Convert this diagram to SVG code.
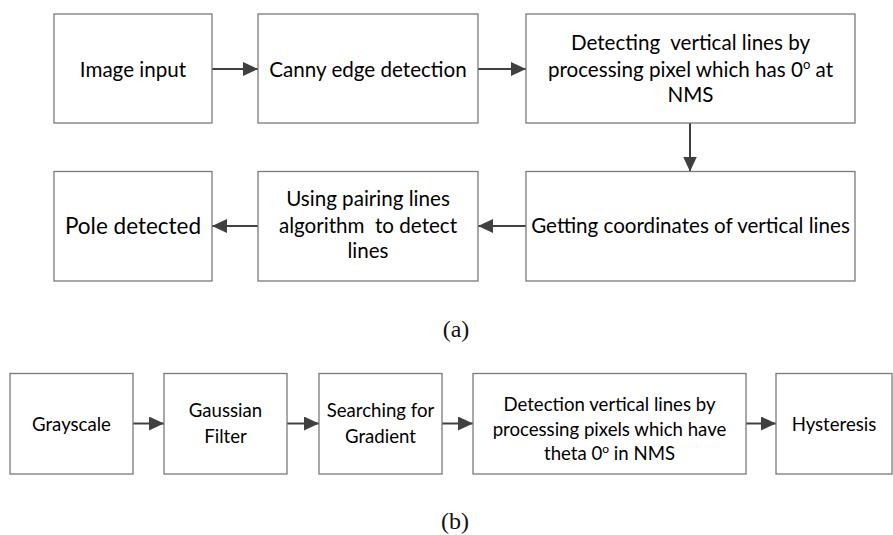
<svg xmlns="http://www.w3.org/2000/svg" width="893" height="535" viewBox="0 0 893 535">
<style>
.box{fill:#fff;stroke:#7a7a7a;stroke-width:1.3}
.t{font-family:Lato,"Open Sans",sans-serif;fill:#000;text-anchor:middle;font-size:20.6px}
.big{font-size:22.5px}
.s{font-size:18.6px}
.cap{font-family:"Liberation Serif","Times New Roman",serif;font-size:24px;fill:#111;text-anchor:middle}
.c{stroke:#404040;stroke-width:2;fill:none;marker-end:url(#ah)}
</style>
<defs>
<marker id="ah" markerUnits="userSpaceOnUse" markerWidth="16" markerHeight="14" refX="15" refY="7" orient="auto">
<path d="M0,0 L15,7 L0,14 Z" fill="#404040"/>
</marker>
</defs>
<rect width="893" height="535" fill="#fff"/>
<g id="connectors">
<line class="c" x1="212" y1="69" x2="258" y2="69"/>
<line class="c" x1="478" y1="69" x2="526" y2="69"/>
<line class="c" x1="690" y1="123" x2="690" y2="171.5"/>
<line class="c" x1="526" y1="226" x2="478" y2="226"/>
<line class="c" x1="258" y1="226" x2="212" y2="226"/>
<line class="c" x1="133" y1="423.5" x2="164" y2="423.5"/>
<line class="c" x1="287" y1="423.5" x2="319" y2="423.5"/>
<line class="c" x1="442" y1="423.5" x2="473" y2="423.5"/>
<line class="c" x1="746" y1="423.5" x2="776" y2="423.5"/>
</g>
<g id="image-input">
<rect class="box" x="54" y="14" width="158" height="109"/>
<text class="t" x="133" y="76.5">Image input</text>
</g>
<g id="canny">
<rect class="box" x="258" y="14" width="220" height="109"/>
<text class="t" x="368" y="76.5">Canny edge detection</text>
</g>
<g id="detecting">
<rect class="box" x="526" y="14" width="329" height="109"/>
<text class="t" x="690.5" y="50" xml:space="preserve">Detecting  vertical lines by</text>
<text class="t" x="690.5" y="76.5">processing pixel which has 0<tspan font-size="13" dy="-8">o</tspan><tspan dy="8"> at</tspan></text>
<text class="t" x="690.5" y="101.5">NMS</text>
</g>
<g id="getting">
<rect class="box" x="526" y="171.5" width="329" height="109.5"/>
<text class="t" x="690.5" y="233">Getting coordinates of vertical lines</text>
</g>
<g id="pairing">
<rect class="box" x="258" y="171.5" width="220" height="109.5"/>
<text class="t" x="368" y="206" xml:space="preserve">Using pairing lines</text>
<text class="t" x="368" y="232.5" xml:space="preserve">algorithm  to detect</text>
<text class="t" x="368" y="258">lines</text>
</g>
<g id="pole">
<rect class="box" x="54" y="171.5" width="158" height="109.5"/>
<text class="t big" x="133" y="233.5">Pole detected</text>
</g>
<text class="cap" x="456" y="337">(a)</text>
<g id="grayscale">
<rect class="box" x="10" y="373.5" width="123" height="100.5"/>
<text class="t s" x="71.5" y="430.5">Grayscale</text>
</g>
<g id="gaussian">
<rect class="box" x="164" y="373.5" width="123" height="100.5"/>
<text class="t s" x="225.5" y="416.5">Gaussian</text>
<text class="t s" x="225.5" y="443">Filter</text>
</g>
<g id="gradient">
<rect class="box" x="319" y="373.5" width="123" height="100.5"/>
<text class="t s" x="380.5" y="416.5">Searching for</text>
<text class="t s" x="380.5" y="443">Gradient</text>
</g>
<g id="detection">
<rect class="box" x="473" y="373.5" width="273" height="100.5"/>
<text class="t s" x="609.5" y="411">Detection vertical lines by</text>
<text class="t s" x="609.5" y="435.5">processing pixels which have</text>
<text class="t s" x="609.5" y="460">theta 0<tspan font-size="12" dy="-7">o</tspan><tspan dy="7"> in NMS</tspan></text>
</g>
<g id="hysteresis">
<rect class="box" x="776" y="373.5" width="116" height="100.5"/>
<text class="t s" x="834" y="430.5">Hysteresis</text>
</g>
<text class="cap" x="455" y="529">(b)</text>
</svg>
